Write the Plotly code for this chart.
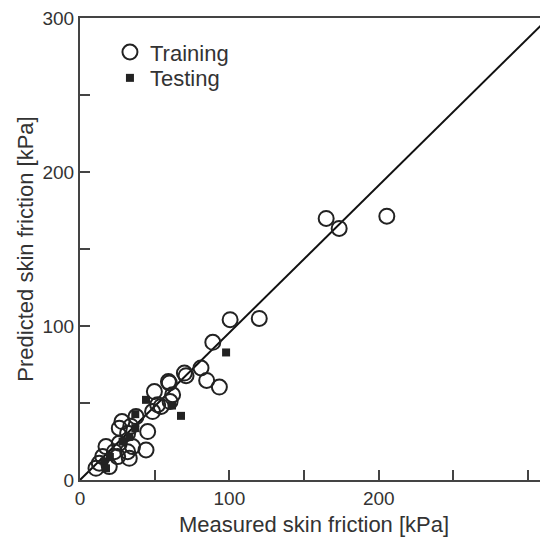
import plotly.graph_objects as go

train_x = [205.4, 164.8, 173.5, 120.0, 100.5, 88.9, 81.0, 84.8, 93.3, 71.0,
           59.2, 49.8, 62.0, 54.3, 48.6, 52.0, 37.5, 28.1, 26.3, 31.9,
           45.3, 44.2, 35.2, 33.0, 26.3, 23.0, 15.2, 12.9, 10.7, 19.6,
           25.2, 31.9, 60.3, 34.0, 17.4, 69.9, 59.8]
train_y = [171.5, 170.0, 163.5, 105.0, 104.2, 89.5, 72.8, 64.7, 60.4, 67.8,
           64.0, 57.5, 55.4, 47.8, 44.5, 48.9, 41.2, 38.0, 33.7, 30.4,
           31.5, 19.5, 21.7, 14.1, 23.9, 18.4, 15.2, 10.9, 7.6, 8.7,
           15.2, 18.4, 51.0, 35.0, 21.7, 69.5, 63.0]

test_x = [97.8, 44.2, 67.6, 61.6, 37.0, 37.0, 28.5, 16.3, 17.4, 33.0, 20.0]
test_y = [82.9, 52.1, 41.7, 48.4, 42.8, 33.7, 25.0, 11.9, 7.6, 28.0, 15.0]

line_x = [0, 313.3]
line_y = [0, 300]

x_ticks = [0, 50, 100, 150, 200, 250, 300]
x_labels = ["0", "", "100", "", "200", "", ""]
y_ticks = [0, 50, 100, 150, 200, 250, 300]
y_labels = ["0", "", "100", "", "200", "", "300"]

FONT = "Liberation Sans, Arial, sans-serif"
TXT = "#333333"
AX = "#444444"

fig = go.Figure()
fig.add_trace(go.Scatter(x=line_x, y=line_y, mode="lines",
                         line=dict(color="#111111", width=2), showlegend=False,
                         hoverinfo="skip"))
fig.add_trace(go.Scatter(x=train_x, y=train_y, mode="markers", name="Training",
                         legend="legend",
                         marker=dict(symbol="circle-open", size=15,
                                     color="#222222", line=dict(width=2, color="#222222"))))
fig.add_trace(go.Scatter(x=test_x, y=test_y, mode="markers", name="Testing",
                         legend="legend2",
                         marker=dict(symbol="square", size=8, color="#222222")))

leg_common = dict(xanchor="left", yanchor="middle", bgcolor="rgba(0,0,0,0)",
                  font=dict(size=22, color=TXT), itemsizing="trace")

fig.update_layout(
    width=540, height=529,
    margin=dict(l=72, r=0, t=10, b=57),
    paper_bgcolor="white", plot_bgcolor="white",
    font=dict(family=FONT, color=TXT, size=19),
    showlegend=True,
    legend=dict(x=0.064, y=0.926, **leg_common),
    legend2=dict(x=0.064, y=0.870, **leg_common),
)
fig.update_xaxes(range=[0, 313.3], tickvals=x_ticks, ticktext=x_labels,
                 ticks="inside", ticklen=10, tickwidth=2, tickcolor=AX,
                 showline=True, linecolor=AX, linewidth=2, mirror=True,
                 showgrid=False, zeroline=False,
                 title=dict(text="Measured skin friction [kPa]", font=dict(size=22, color=TXT), standoff=13),
                 tickfont=dict(size=19, color=TXT))
fig.update_yaxes(range=[0, 300.3], tickvals=y_ticks, ticktext=y_labels,
                 ticks="inside", ticklen=10, tickwidth=2, tickcolor=AX,
                 showline=True, linecolor=AX, linewidth=2,
                 showgrid=False, zeroline=False,
                 title=dict(text="Predicted skin friction [kPa]", font=dict(size=22, color=TXT), standoff=3),
                 tickfont=dict(size=19, color=TXT))

fig.write_html("out.html")
